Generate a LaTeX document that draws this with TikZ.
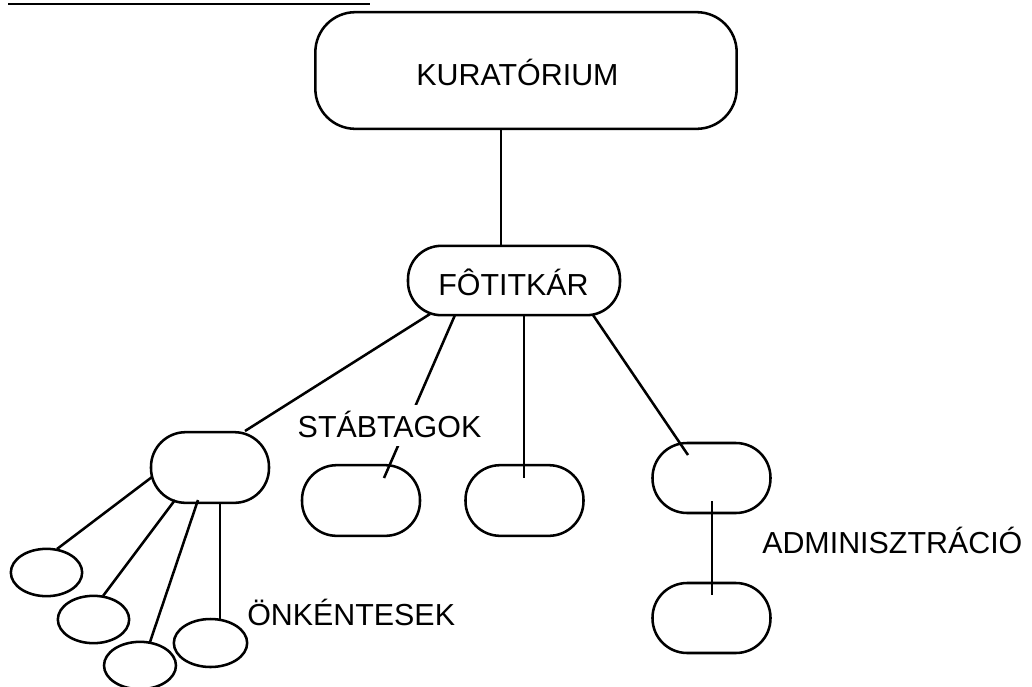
\documentclass[tikz,border=0pt]{standalone}
\usepackage{fontspec}
\setmainfont{Liberation Sans}
\usetikzlibrary{shapes.geometric}
\tikzset{
  ln/.style={line width=1.9pt, line cap=butt},
  bigbox/.style={draw, line width=1.9pt, rounded corners=26pt, minimum width=88.5pt, minimum height=53pt, inner sep=0pt},
  smallell/.style={draw, line width=1.9pt, ellipse, minimum width=53.5pt, minimum height=35.5pt, inner sep=0pt},
  lbl/.style={font=\fontsize{22.8}{27}\selectfont, inner sep=0pt},
}
\begin{document}
\begin{tikzpicture}[x=0.75pt,y=-0.75pt]
\useasboundingbox (0,0) rectangle (1032,686);
% heading underline (text above is cut off)
\coordinate (u1) at (8,4);
\coordinate (u2) at (370,4);
\draw[line width=2.2pt] (u1) -- (u2);
% top box
\node[draw, line width=1.9pt, rounded corners=30pt, minimum width=316pt, minimum height=87.5pt, inner sep=0pt] (kur) at (526,70.5) {};
\node[lbl, anchor=base] (kurt) at (517.5,85) {KURATÓRIUM};
% secretary
\node[draw, line width=1.9pt, rounded corners=25pt, minimum width=159pt, minimum height=52pt, inner sep=0pt] (ft) at (514,280.5) {};
\node[lbl, anchor=base] (ftt) at (513.5,295) {FÔTITKÁR};
% second level boxes
\node[bigbox] (vol) at (210,467.5) {};
\node[bigbox] (stab) at (361,500.5) {};
\node[bigbox] (mid) at (524.5,500.5) {};
\node[bigbox, minimum height=52.5pt] (adm1) at (711.5,478) {};
\node[bigbox, minimum height=52.5pt] (adm2) at (711.5,618) {};
% volunteers
\node[smallell] (v1) at (46.5,572.5) {};
\node[smallell] (v2) at (93.5,619.5) {};
\node[smallell, minimum width=54pt] (v3) at (140,665.5) {};
\node[smallell, minimum width=55pt, minimum height=36pt] (v4) at (210.5,643) {};
% connector end points
\coordinate (k0) at (501,129);
\coordinate (f0) at (501,246);
\coordinate (f1) at (430,314);
\coordinate (e1) at (245,431);
\coordinate (f2) at (455,315);
\coordinate (e2) at (384,478);
\coordinate (f3) at (524,315);
\coordinate (e3) at (524,478);
\coordinate (f4) at (593,315);
\coordinate (e4) at (688,455);
\coordinate (a1) at (712,501);
\coordinate (a2) at (712,595);
\coordinate (b1) at (152,477);
\coordinate (c1) at (57,549);
\coordinate (b2) at (175,500);
\coordinate (c2) at (103,596);
\coordinate (b3) at (198,500);
\coordinate (c3) at (150,642);
\coordinate (b4) at (220,502);
\coordinate (c4) at (220,620);
% connectors
\draw[ln] (k0) -- (f0);
\draw[ln] (f1) -- (e1);
\draw[ln] (f2) -- (e2);
\draw[ln] (f3) -- (e3);
\draw[ln] (f4) -- (e4);
\draw[ln] (a1) -- (a2);
\draw[ln] (b1) -- (c1);
\draw[ln] (b2) -- (c2);
\draw[ln] (b3) -- (c3);
\draw[ln] (b4) -- (c4);
% labels
\node[lbl, anchor=base, fill=white, inner xsep=2pt, inner ysep=4pt, text depth=3pt] (stabt) at (389.5,437) {STÁBTAGOK};
\node[lbl, anchor=base west] (vt) at (247,625) {ÖNKÉNTESEK};
\node[lbl, anchor=base west] (admt) at (762,553) {ADMINISZTRÁCIÓ};
\end{tikzpicture}
\end{document}
